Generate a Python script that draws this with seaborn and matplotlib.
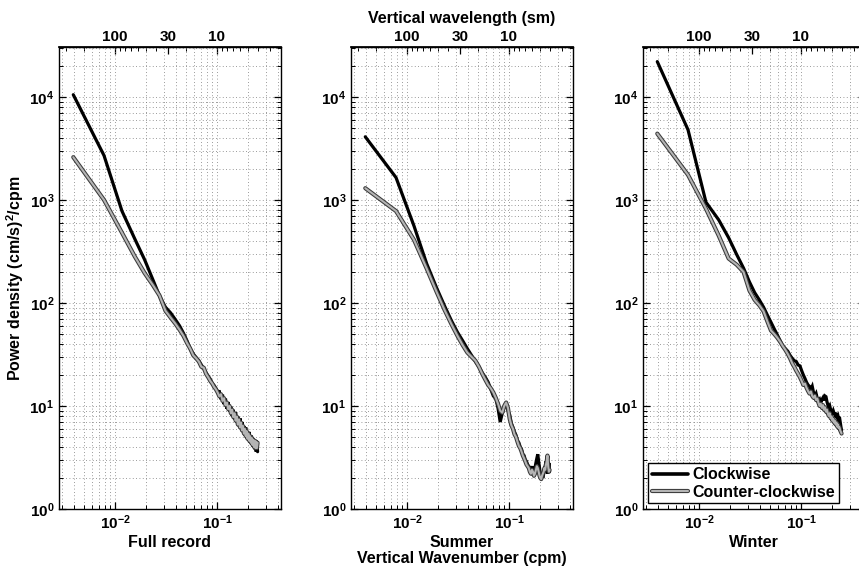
import numpy as np
import pandas as pd
import matplotlib
matplotlib.use("Agg")
import matplotlib.pyplot as plt
import seaborn as sns
from matplotlib import patheffects as pe
from matplotlib.lines import Line2D
from matplotlib.ticker import LogLocator, NullFormatter

# ---------------- data ----------------
n_index = list(range(1, 65))
wavenumber_cpm = [n / 256 for n in n_index]

full_cw = [10500, 2700, 780, 420, 263, 170, 117, 91, 80, 69, 60, 51, 43, 36, 32, 29.5,
           27.5, 25, 23, 21, 19.5, 18.2, 16.6, 15.8, 14.8, 13.8, 13.8, 11.6, 12.9, 10.4, 11.8, 9.4,
           10.9, 8.8, 9.9, 8.0, 9.2, 7.4, 8.7, 6.9, 7.9, 6.4, 7.6, 6.0, 7.0, 5.6, 6.4, 5.3,
           6.2, 5.0, 5.7, 4.7, 5.6, 4.4, 5.2, 4.2, 5.0, 4.0, 4.7, 3.8, 4.6, 3.6, 4.3, 3.6]
full_ccw = [2600, 1000, 480, 283, 195, 150, 118, 84, 72, 63, 55, 48, 41, 36, 31, 29,
            27, 24, 23.5, 20.5, 19, 17.5, 16.5, 15.3, 14.5, 13.5, 12.4, 13.0, 11.2, 11.9, 10.2, 10.8,
            9.3, 10.0, 8.5, 9.2, 7.8, 8.5, 7.2, 7.9, 6.6, 7.4, 6.2, 6.9, 5.8, 6.4, 5.4, 6.0,
            5.1, 5.7, 4.8, 5.4, 4.6, 5.1, 4.4, 4.9, 4.2, 4.7, 4.0, 4.6, 3.9, 4.5, 3.9, 4.4]

summer_cw = [4100, 1650, 560, 240, 140, 93, 67, 52, 43, 36, 31, 27, 24, 21, 19, 17,
             14.5, 12.5, 11.8, 9.5, 7.0, 8.5, 9.8, 10.8, 9.0, 8.2, 6.8, 6.2, 5.6, 5.2, 4.6, 4.4,
             4.0, 3.8, 3.4, 3.3, 3.0, 2.9, 2.7, 2.6, 2.5, 2.4, 2.6, 2.3, 2.2, 2.5, 2.8, 3.1,
             3.4, 2.9, 2.5, 2.2, 2.0, 2.1, 2.0, 2.2, 2.4, 2.6, 2.9, 2.5, 2.2, 2.4, 2.8, 2.3]
summer_ccw = [1300, 780, 410, 215, 128, 85, 62, 48, 39, 33, 30, 27.5, 24, 20.5, 18, 16,
              14.8, 13.5, 12, 10.5, 9.0, 8.6, 10.0, 10.8, 9.6, 7.5, 6.5, 6.0, 5.3, 5.0, 4.5, 4.1,
              3.9, 3.6, 3.3, 3.1, 2.9, 2.7, 2.6, 2.5, 2.3, 2.2, 2.4, 2.3, 2.1, 2.2, 2.4, 2.6,
              2.5, 2.3, 2.1, 2.0, 1.95, 2.1, 2.2, 2.3, 2.5, 2.4, 2.7, 2.9, 3.3, 2.6, 2.3, 2.4]

winter_cw = [22000, 4800, 950, 640, 430, 295, 218, 160, 126, 107, 91, 76, 65, 56, 49, 43,
             38, 36, 34, 31, 29, 27.5, 27, 25, 24.5, 22, 20, 18.5, 17, 16, 15.5, 14.5,
             15.5, 13.5, 12.5, 13.2, 11.8, 11.2, 11.6, 10.8, 11.5, 12.0, 11.3, 12.5, 12.3, 11.0, 10.2, 9.6,
             10.0, 9.2, 9.0, 8.6, 9.0, 8.5, 8.2, 8.6, 8.0, 7.7, 8.0, 7.5, 7.8, 7.0, 6.3, 5.8]
winter_ccw = [4400, 1750, 820, 450, 270, 235, 200, 132, 107, 95, 83, 66, 54, 50, 46, 42,
              38, 35, 32, 29, 26, 24, 22, 20.5, 19, 17.5, 16, 16.5, 15, 14, 13.2, 13.8,
              12.5, 12.0, 12.6, 11.4, 11.8, 10.7, 10.0, 10.5, 9.6, 10.2, 9.2, 9.7, 8.8, 9.2, 8.4, 8.0,
              8.5, 7.6, 7.9, 7.2, 7.5, 6.9, 7.2, 6.6, 6.9, 6.3, 6.6, 6.1, 6.2, 5.8, 5.6, 5.4]

panels = ["Full record", "Summer", "Winter"]
directions = ["Clockwise", "Counter-clockwise"]
series = {
    ("Full record", "Clockwise"): full_cw, ("Full record", "Counter-clockwise"): full_ccw,
    ("Summer", "Clockwise"): summer_cw, ("Summer", "Counter-clockwise"): summer_ccw,
    ("Winter", "Clockwise"): winter_cw, ("Winter", "Counter-clockwise"): winter_ccw,
}
top_ticks = [100, 30, 10]
top_tick_labels = ["100", "30", "10"]

rows = []
for (season, direc), vals in series.items():
    for k, p in zip(wavenumber_cpm, vals):
        rows.append({"Season": season, "Direction": direc, "k": k, "P": p})
df = pd.DataFrame(rows)

# ---------------- style ----------------
sns.set_theme(style="white")
plt.rcParams["font.family"] = ["Liberation Sans", "DejaVu Sans"]
plt.rcParams["font.weight"] = "bold"
plt.rcParams["axes.labelweight"] = "bold"
plt.rcParams["text.color"] = "black"
plt.rcParams["axes.labelcolor"] = "black"
plt.rcParams["xtick.color"] = "black"
plt.rcParams["ytick.color"] = "black"
plt.rcParams["mathtext.fontset"] = "custom"
plt.rcParams["mathtext.rm"] = "Liberation Sans:bold"
plt.rcParams["mathtext.bf"] = "Liberation Sans:bold"
plt.rcParams["mathtext.it"] = "Liberation Sans:bold"
plt.rcParams["mathtext.sf"] = "Liberation Sans:bold"
plt.rcParams["mathtext.default"] = "bf"

W, H = 859, 571
fig = plt.figure(figsize=(W / 100, H / 100), dpi=100)
lefts = [59, 351, 643]
aw, ab, ah = 222, 62, 462

gray_fx = [pe.Stroke(linewidth=3.0, foreground="#3a3a3a"), pe.Normal()]
inv = lambda x: 1.0 / np.asarray(x, dtype=float)

axes = []
for i, season in enumerate(panels):
    ax = fig.add_axes([lefts[i] / W, ab / H, aw / W, ah / H])
    axes.append(ax)
    sub = df[df["Season"] == season]
    sns.lineplot(data=sub, x="k", y="P", hue="Direction", hue_order=directions,
                 palette={"Clockwise": "black", "Counter-clockwise": "#b4b4b4"},
                 estimator=None, sort=False, ax=ax, legend=False)
    ax.set_xscale("log")
    ax.set_yscale("log")
    ln_cw, ln_ccw = ax.lines[0], ax.lines[1]
    ln_cw.set_linewidth(2.3)
    ln_cw.set_solid_joinstyle("miter")
    ln_ccw.set_linewidth(1.5)
    ln_ccw.set_path_effects(gray_fx)
    ln_ccw.set_zorder(3)
    ln_cw.set_zorder(2.5)

    ax.set_xlim(0.00283, 0.424)
    ax.set_ylim(1, 3.05e4)
    ax.yaxis.set_major_locator(LogLocator(base=10, numticks=10))
    ax.yaxis.set_minor_locator(LogLocator(base=10, subs=np.arange(2, 10), numticks=40))
    ax.xaxis.set_minor_locator(LogLocator(base=10, subs=np.arange(2, 10), numticks=40))
    ax.xaxis.set_minor_formatter(NullFormatter())
    ax.yaxis.set_minor_formatter(NullFormatter())
    ax.grid(True, which="both", linestyle=(0, (1, 3)), color="#7a7a7a", linewidth=0.6)
    ax.tick_params(which="both", direction="in", top=False, right=True, bottom=True, left=True,
                   labelsize=11, colors="black")
    ax.tick_params(which="major", length=5, width=0.9)
    ax.tick_params(which="minor", length=3, width=0.7)
    for s in ax.spines.values():
        s.set_color("black")
        s.set_linewidth(1.0)
    ax.set_ylabel("")
    ax.set_xlabel(season, fontsize=11.5, fontweight="bold", labelpad=2)

    sec = ax.secondary_xaxis("top", functions=(inv, inv))
    sec.set_ticks(top_ticks, labels=top_tick_labels)
    sec.xaxis.set_minor_formatter(NullFormatter())
    sec.tick_params(which="both", direction="in", labelsize=11, pad=2, colors="black")
    sec.tick_params(which="major", length=5, width=0.9)
    sec.tick_params(which="minor", length=3, width=0.7)
    sec.spines["top"].set_color("black")
    if season == "Summer":
        sec.set_xlabel("Vertical wavelength (sm)", fontsize=11.5, fontweight="bold", labelpad=5)

axes[1].set_xlabel("Summer\nVertical Wavenumber (cpm)", fontsize=11.5, fontweight="bold",
                   labelpad=2, linespacing=1.1)
axes[0].set_ylabel("Power density (cm/s)$^2$/cpm", fontsize=11.5, fontweight="bold", labelpad=2)

handles = [Line2D([], [], color="black", lw=2.6),
           Line2D([], [], color="#b4b4b4", lw=1.5, path_effects=gray_fx)]
leg = axes[2].legend(handles, directions, loc="lower left", bbox_to_anchor=(0.01, 0.005),
                     frameon=True, fancybox=False, edgecolor="black", framealpha=1,
                     prop={"weight": "bold", "size": 11.5}, handlelength=2.2, handletextpad=0.3,
                     borderpad=0.25, labelspacing=0.15, borderaxespad=0.2)
leg.get_frame().set_linewidth(1.0)

fig.savefig("out.png", dpi=100)
